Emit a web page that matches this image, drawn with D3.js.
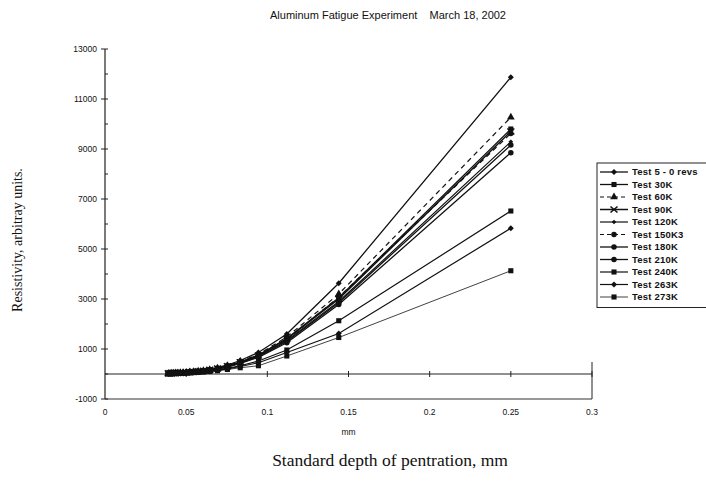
<!DOCTYPE html>
<html>
<head>
<meta charset="utf-8">
<script src="https://cdn.jsdelivr.net/npm/d3@7"></script>
<style>
  body { margin: 0; background: #fff; }
  text { fill: #111; }
</style>
</head>
<body>
<svg id="chart" width="706" height="486"></svg>
<script>
// chart values
var depth = [0.039, 0.040, 0.0411, 0.0423, 0.0435, 0.0449, 0.0464, 0.0481, 0.050, 0.0521,
             0.0546, 0.0574, 0.0606, 0.0645, 0.0693, 0.0754, 0.0833, 0.0945, 0.112, 0.144, 0.25];

var seriesNames = ['Test 5 - 0 revs', 'Test 30K', 'Test 60K', 'Test 90K', 'Test 120K', 'Test 150K3',
                   'Test 180K', 'Test 210K', 'Test 240K', 'Test 263K', 'Test 273K'];

var test5    = [25, 28, 32, 36, 40, 46, 52, 60, 70, 82, 98, 118, 145, 185, 250, 360, 540, 860, 1600, 3630, 11870];
var test30k  = [22, 25, 28, 32, 36, 41, 47, 54, 63, 74, 88, 106, 130, 165, 225, 320, 480, 760, 1420, 3050, 9800];
var test60k  = [23, 26, 29, 33, 37, 42, 48, 56, 65, 77, 92, 110, 136, 172, 235, 335, 500, 790, 1480, 3200, 10270];
var test90k  = [21, 24, 27, 31, 35, 40, 46, 53, 62, 73, 87, 105, 128, 162, 220, 310, 470, 740, 1400, 3000, 9700];
var test120k = [20, 23, 26, 30, 34, 39, 45, 52, 60, 71, 84, 101, 124, 157, 212, 300, 450, 710, 1340, 2900, 9290];
var test150k = [21, 24, 27, 31, 35, 40, 46, 53, 61, 72, 86, 103, 126, 160, 216, 306, 460, 725, 1370, 3080, 9620];
var test180k = [20, 23, 26, 29, 33, 38, 44, 50, 58, 69, 82, 98, 120, 152, 205, 290, 435, 690, 1300, 2850, 9160];
var test210k = [19, 22, 25, 28, 32, 37, 42, 48, 56, 66, 79, 95, 116, 147, 198, 280, 420, 665, 1250, 2780, 8850];
var test240k = [17, 19, 22, 25, 28, 32, 36, 41, 48, 56, 66, 79, 96, 120, 160, 225, 330, 520, 960, 2130, 6520];
var test263k = [16, 18, 21, 24, 27, 30, 34, 39, 45, 52, 61, 73, 88, 110, 146, 205, 300, 450, 860, 1620, 5830];
var test273k = [15, 17, 19, 22, 25, 28, 32, 36, 42, 48, 56, 66, 80, 100, 132, 180, 250, 330, 720, 1460, 4130];

var xTicks = [0, 0.05, 0.1, 0.15, 0.2, 0.25, 0.3];
var yTicks = [-1000, 1000, 3000, 5000, 7000, 9000, 11000, 13000];
var yMinorTicks = [0, 2000, 4000, 6000, 8000, 10000, 12000];

var allSeries = [test5, test30k, test60k, test90k, test120k, test150k,
                 test180k, test210k, test240k, test263k, test273k];

// marker / line style per series (same order as seriesNames)
var markerKind = ['diamond', 'square', 'triangle', 'x', 'smalldiamond', 'circle',
                  'circle', 'circle', 'square', 'diamond', 'square'];
var dashed = [false, false, true, false, false, true, false, false, false, false, false];
var lineWidth = [1.3, 1.3, 1.2, 1.5, 1.2, 1.2, 1.3, 1.3, 1.2, 1.2, 0.8];

var svg = d3.select('#chart');
var plot = { left: 105, right: 592, top: 49, bottom: 399 };

var x = d3.scaleLinear().domain([0, 0.3]).range([plot.left, plot.right]);
var y = d3.scaleLinear().domain([-1000, 13000]).range([plot.bottom, plot.top]);

function markerPath(kind) {
  var type = d3.symbolCircle, size = 24;
  if (kind == 'diamond') { type = d3.symbolSquare; size = 18; }
  if (kind == 'smalldiamond') { type = d3.symbolSquare; size = 11; }
  if (kind == 'square') { type = d3.symbolSquare; size = 26; }
  if (kind == 'triangle') { type = d3.symbolTriangle; size = 26; }
  return d3.symbol().type(type).size(size)();
}

function drawMarker(g, kind, cx, cy) {
  if (kind == 'x') {
    g.append('path')
      .attr('d', 'M' + (cx - 3.5) + ',' + (cy - 3) + 'L' + (cx + 3.5) + ',' + (cy + 3) +
                 'M' + (cx - 3.5) + ',' + (cy + 3) + 'L' + (cx + 3.5) + ',' + (cy - 3))
      .style('stroke', '#111').style('stroke-width', 1.6).style('fill', 'none');
    return;
  }
  var rot = (kind == 'diamond' || kind == 'smalldiamond') ? ' rotate(45)' : '';
  g.append('path')
    .attr('d', markerPath(kind))
    .attr('transform', 'translate(' + cx + ',' + cy + ')' + rot)
    .style('fill', '#111');
}

///////////////////////////////////////////////////////////////////////////////
// AXES AND FRAME

var frame = svg.append('g').style('stroke', '#222').style('fill', 'none');
// left axis
frame.append('line')
  .attr('x1', x(0)).attr('x2', x(0)).attr('y1', y(13000)).attr('y2', y(-1000))
  .style('stroke-width', 1.2);
// bottom border of plot area
frame.append('line')
  .attr('x1', x(0)).attr('x2', x(0.3)).attr('y1', y(-1000)).attr('y2', y(-1000))
  .style('stroke-width', 1.1).style('stroke', '#333');
// right border (only the lower part survives in the scan)
frame.append('line')
  .attr('x1', x(0.3)).attr('x2', x(0.3)).attr('y1', y(0) - 12).attr('y2', y(-1000))
  .style('stroke-width', 1);
// zero line acts as the x axis
frame.append('line')
  .attr('x1', x(0)).attr('x2', x(0.3)).attr('y1', y(0)).attr('y2', y(0))
  .style('stroke-width', 1.1);

frame.selectAll('.xtick')
  .data(xTicks.slice(1))
  .enter()
  .append('line')
  .attr('x1', function(d) { return x(d); })
  .attr('x2', function(d) { return x(d); })
  .attr('y1', y(0) - 3)
  .attr('y2', y(0) + 3);

frame.selectAll('.ytick')
  .data(yTicks)
  .enter()
  .append('line')
  .attr('x1', x(0) - 4).attr('x2', x(0) + 3)
  .attr('y1', function(d) { return y(d); })
  .attr('y2', function(d) { return y(d); });

frame.selectAll('.yminor')
  .data(yMinorTicks)
  .enter()
  .append('line')
  .attr('x1', x(0)).attr('x2', x(0) + 3)
  .attr('y1', function(d) { return y(d); })
  .attr('y2', function(d) { return y(d); });

var tickFont = 'Liberation Sans, Arial, sans-serif';
var serifFont = 'Liberation Serif, Times New Roman, serif';

svg.selectAll('.ylabel')
  .data(yTicks)
  .enter()
  .append('text')
  .attr('x', x(0) - 8)
  .attr('y', function(d) { return y(d) + 3; })
  .attr('text-anchor', 'end')
  .style('font-family', tickFont).style('font-size', '8.5px')
  .text(function(d) { return d; });

svg.selectAll('.xlabel')
  .data(xTicks)
  .enter()
  .append('text')
  .attr('x', function(d) { return x(d); })
  .attr('y', y(-1000) + 16)
  .attr('text-anchor', 'middle')
  .style('font-family', tickFont).style('font-size', '8.5px')
  .text(function(d) { return d; });

svg.append('text')
  .attr('x', (plot.left + plot.right) / 2)
  .attr('y', 435)
  .attr('text-anchor', 'middle')
  .style('font-family', tickFont).style('font-size', '8.5px')
  .text('mm');

svg.append('text')
  .attr('x', 388)
  .attr('y', 19)
  .attr('text-anchor', 'middle')
  .attr('xml:space', 'preserve')
  .style('font-family', tickFont).style('font-size', '11px')
  .text('Aluminum Fatigue Experiment    March 18, 2002');

svg.append('text')
  .attr('x', 390)
  .attr('y', 466)
  .attr('text-anchor', 'middle')
  .style('font-family', serifFont).style('font-size', '17.5px')
  .text('Standard depth of pentration, mm');

svg.append('text')
  .attr('transform', 'translate(22,240) rotate(-90)')
  .attr('text-anchor', 'middle')
  .style('font-family', serifFont).style('font-size', '14px')
  .text('Resistivity, arbitray units.');

///////////////////////////////////////////////////////////////////////////////
// SERIES

var line = d3.line()
  .x(function(d) { return x(d[0]); })
  .y(function(d) { return y(d[1]); });

allSeries.forEach(function(values, i) {
  var pts = depth.map(function(dv, j) { return [dv, values[j]]; });
  var g = svg.append('g');
  g.append('path')
    .datum(pts)
    .attr('d', line)
    .style('fill', 'none')
    .style('stroke', '#111')
    .style('stroke-width', lineWidth[i])
    .style('stroke-dasharray', dashed[i] ? '5,4' : null);
  pts.forEach(function(p) {
    drawMarker(g, markerKind[i], x(p[0]), y(p[1]));
  });
});

///////////////////////////////////////////////////////////////////////////////
// LEGEND (runs off the right edge, as in the scan)

var legendTop = 163, legendRow = 12.5, legendLeft = 597;
svg.append('rect')
  .attr('x', legendLeft).attr('y', legendTop)
  .attr('width', 130).attr('height', legendRow * seriesNames.length + 7)
  .style('fill', '#fff').style('stroke', '#222').style('stroke-width', 1);

seriesNames.forEach(function(name, i) {
  var cy = legendTop + 9 + i * legendRow;
  var g = svg.append('g');
  g.append('line')
    .attr('x1', legendLeft + 3).attr('x2', legendLeft + 31)
    .attr('y1', cy).attr('y2', cy)
    .style('stroke', '#111')
    .style('stroke-width', lineWidth[i])
    .style('stroke-dasharray', dashed[i] ? '4,3' : null);
  drawMarker(g, markerKind[i], legendLeft + 17, cy);
  g.append('text')
    .attr('x', legendLeft + 35)
    .attr('y', cy + 3.4)
    .style('font-family', tickFont).style('font-size', '9.5px').style('font-weight', 'bold')
    .style('letter-spacing', '0.2px')
    .text(name);
});
</script>
</body>
</html>
